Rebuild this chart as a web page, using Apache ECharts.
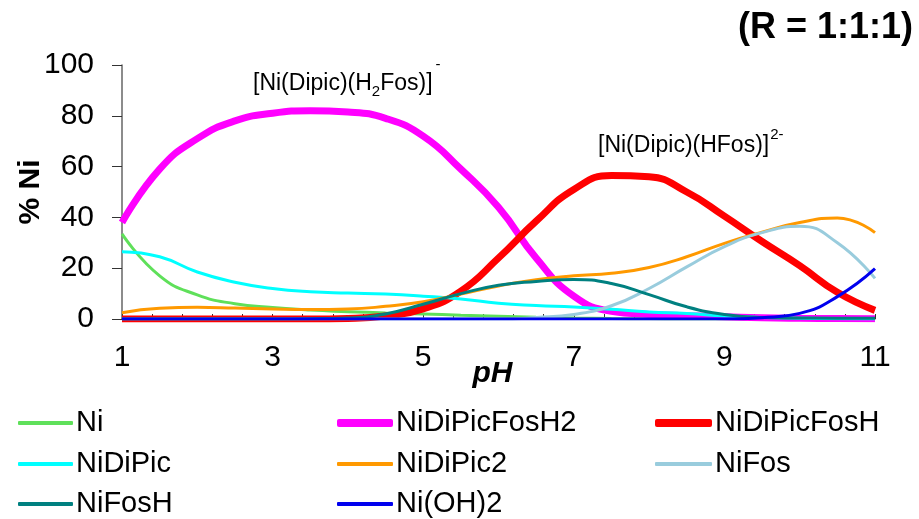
<!DOCTYPE html>
<html>
<head>
<meta charset="utf-8">
<script src="https://cdn.jsdelivr.net/npm/echarts@6/dist/echarts.min.js"></script>
<style>html,body{margin:0;padding:0;background:#fff}#c{width:919px;height:519px}</style>
</head>
<body>
<div id="c"></div>
<script>
var pH = [1,1.5,2,2.5,3,3.5,4,4.5,5,5.5,6,6.5,7,7.5,8,8.5,9,9.5,10,10.5,11];
var Ni           = [33.5,17,9.5,6,4.5,3.5,2.9,2.4,2,1.5,1.1,0.7,0.4,0.2,0.1,0,0,0,0,0,0];
var NiDiPicFosH2 = [38,59,71,78,81,82,81.5,79,72,59,44,24,9,3,1.8,1.3,0.9,0.5,0.3,0.2,0.1];
var NiDiPicFosH  = [0,0,0,0,0,0,0.2,1.2,4,11,24,38.5,51,56.5,56,50,40.5,30.5,21,10.5,3.4];
var NiDiPic      = [26.5,24.5,18.5,14.5,12,10.7,10.2,9.8,9,7.9,6.2,5.3,4.7,3.8,2.8,2.2,1.2,0.6,0.3,0.1,0];
var NiDiPic2     = [2.5,4.2,4.6,4.3,3.9,3.7,3.9,5,6.8,9.8,13,15.5,17,18,20.3,24.5,29.8,34.2,38,39.8,34];
var NiFos        = [0,0,0,0,0,0,0,0,0,0,0,0.6,1.8,5.2,12,20.5,28.5,34,36.5,30,16];
var NiFosH       = [0,0,0,0,0,0.1,0.4,2,5.8,10,13.3,14.8,15.6,14,9.6,4.8,1.8,0.6,0.4,0.3,0.3];
var NiOH2        = [0,0,0,0,0,0,0,0,0,0,0,0,0,0,0,0,0,0.5,2.2,8.8,19.8];
var xTicks  = [1,1.4,1.8,2.2,2.6,3,3.4,3.8,4.2,4.6,5,5.4,5.8,6.2,6.6,7,7.4,7.8,8.2,8.6,9,9.4,9.8,10.2,10.6,11];
var xLabels = [1,3,5,7,9,11];

function pairs(arr){ return pH.map(function(x,i){ return [x, arr[i]]; }); }
function ser(name, arr, color, width){
  return {name:name, type:'line', data:pairs(arr), smooth:0.5, symbol:'none',
    lineStyle:{color:color, width:width}, itemStyle:{color:color}};
}
var F = 'Liberation Sans, Arial, sans-serif';
function leg(name, left, top, w, h){
  return {data:[name], left:left, top:top, padding:0, icon:'roundRect', itemWidth:w, itemHeight:h,
    textStyle:{fontFamily:F, fontSize:29, lineHeight:30, color:'#000', padding:[0,0,0,-2]}};
}
var chart = echarts.init(document.getElementById('c'), null, {renderer:'canvas'});
chart.setOption({
  animation:false,
  backgroundColor:'#fff',
  title:{text:'(R = 1:1:1)', right:6, top:10, padding:0, textStyle:{fontFamily:F, fontSize:36, fontWeight:'bold', color:'#000'}},
  grid:{left:122, right:44, top:65, bottom:200},
  xAxis:{type:'value', min:1, max:11,
    name:'pH', nameLocation:'middle', nameGap:40, nameMoveOverlap:false,
    nameTextStyle:{fontFamily:F, fontSize:30, fontWeight:'bold', fontStyle:'italic', color:'#000', padding:[0,12,0,0]},
    axisLine:{lineStyle:{color:'#666', width:1.5}},
    axisTick:{inside:true, length:5, customValues:xTicks, lineStyle:{color:'#333'}},
    axisLabel:{customValues:xLabels, margin:24, fontFamily:F, fontSize:30, color:'#000'},
    splitLine:{show:false}},
  yAxis:{type:'value', min:0, max:100, interval:20,
    name:'% Ni', nameLocation:'middle', nameGap:76, nameRotate:90, nameMoveOverlap:false,
    nameTextStyle:{fontFamily:F, fontSize:30, fontWeight:'bold', color:'#000'},
    axisLine:{show:true, lineStyle:{color:'#666', width:1.5}},
    axisTick:{show:true, length:10, lineStyle:{color:'#333'}},
    axisLabel:{margin:28, fontFamily:F, fontSize:30, color:'#000'},
    splitLine:{show:false}},
  legend:[
    leg('Ni', 18, 408, 55, 4),
    leg('NiDiPic', 18, 449, 55, 4),
    leg('NiFosH', 18, 489, 55, 4),
    leg('NiDiPicFosH2', 337, 408, 56, 8),
    leg('NiDiPic2', 337, 449, 56, 4),
    leg('Ni(OH)2', 337, 489, 56, 4),
    leg('NiDiPicFosH', 655, 408, 57, 8),
    leg('NiFos', 655, 449, 57, 4)
  ],
  graphic:[
    {type:'text', left:253, top:57, style:{
      text:'{a|[Ni(Dipic)(H}{b|2}{a|Fos)]}{c|-}',
      rich:{a:{fontFamily:F, fontSize:23, fill:'#000', lineHeight:28, verticalAlign:'bottom'},
            b:{fontFamily:F, fontSize:15, fill:'#000', lineHeight:28, verticalAlign:'bottom', padding:[0,0,-4,0]},
            c:{fontFamily:F, fontSize:15, fill:'#000', lineHeight:28, verticalAlign:'top', padding:[-10,0,0,3]}}}},
    {type:'text', left:598, top:127, style:{
      text:'{a|[Ni(Dipic)(HFos)]}{c|2-}',
      rich:{a:{fontFamily:F, fontSize:23, fill:'#000', lineHeight:28, verticalAlign:'bottom'},
            c:{fontFamily:F, fontSize:15, fill:'#000', lineHeight:28, verticalAlign:'top', padding:[-2,0,0,1]}}}}
  ],
  series:[
    ser('Ni', Ni, '#5fe05a', 3),
    ser('NiDiPicFosH2', NiDiPicFosH2, '#ff00ff', 7),
    ser('NiDiPicFosH', NiDiPicFosH, '#ff0000', 7),
    ser('NiDiPic', NiDiPic, '#00ffff', 3),
    ser('NiDiPic2', NiDiPic2, '#ff9900', 3),
    ser('NiFos', NiFos, '#99ccdd', 3),
    ser('NiFosH', NiFosH, '#008080', 3),
    ser('Ni(OH)2', NiOH2, '#0000ee', 3)
  ]
});
</script>
</body>
</html>
